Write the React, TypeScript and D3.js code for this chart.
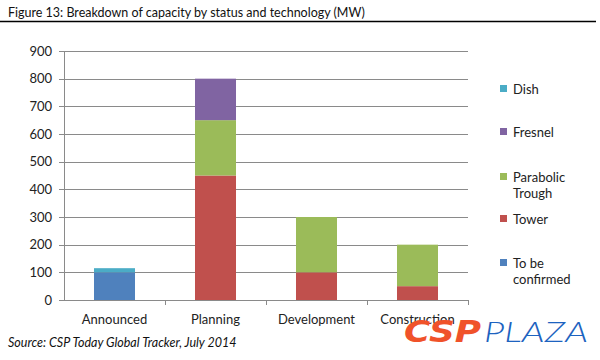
import React from "react";
import * as d3 from "d3";

const categories = ["Announced", "Planning", "Development", "Construction"];
const seriesNames = ["To be confirmed", "Tower", "Parabolic Trough", "Fresnel", "Dish"];
const toBeConfirmed = [100, 0, 0, 0];
const tower = [0, 450, 100, 50];
const parabolicTrough = [0, 200, 200, 150];
const fresnel = [0, 150, 0, 0];
const dish = [15, 0, 0, 0];
const yTicks = [0, 100, 200, 300, 400, 500, 600, 700, 800, 900];
const colors = ["#4f81bd", "#c0504d", "#9bbb59", "#8064a2", "#4bacc6"];
const legendLines: string[][] = [["Dish"], ["Fresnel"], ["Parabolic", "Trough"], ["Tower"], ["To be", "confirmed"]];
const legendY = [89, 132, 177, 219, 263];

const FONT = "Lato, 'Open Sans', sans-serif";

export default function App() {
  const W = 600, H = 360;
  const left = 64, right = 468, top = 51, bottom = 300;
  const values = [toBeConfirmed, tower, parabolicTrough, fresnel, dish];
  const rows = categories.map((c, i) => {
    const r: any = { cat: c };
    seriesNames.forEach((s, j) => (r[s] = values[j][i]));
    return r;
  });
  const stacked = d3.stack<any>().keys(seriesNames)(rows);
  const x = d3.scaleBand<string>().domain(categories).range([left, right]).paddingInner(0.594).paddingOuter(0.297);
  const y = d3.scaleLinear().domain([0, 900]).range([bottom, top]);
  const step = x.step();

  return (
    <svg width={W} height={H} style={{ position: "absolute", left: 0, top: 0, background: "#fff" }}>
      <rect x={0} y={0} width={W} height={H} fill="#fff" />
      <text x={8} y={17} fontFamily={FONT} fontSize={12.5} fill="#111">
        Figure 13: Breakdown of capacity by status and technology (MW)
      </text>
      <line x1={0} x2={596} y1={21.5} y2={21.5} stroke="#000" strokeWidth={1.5} />

      {yTicks.map((t) => (
        <g key={t}>
          {t > 0 && <line x1={left} x2={right} y1={Math.round(y(t)) + 0.5} y2={Math.round(y(t)) + 0.5} stroke="#8a8a8a" strokeWidth={1} />}
          <line x1={left - 5} x2={left} y1={Math.round(y(t)) + 0.5} y2={Math.round(y(t)) + 0.5} stroke="#8a8a8a" />
          <text x={52} y={y(t) + 4.5} textAnchor="end" fontFamily={FONT} fontSize={13} fill="#222">
            {t}
          </text>
        </g>
      ))}
      <line x1={left + 0.5} x2={left + 0.5} y1={top} y2={bottom} stroke="#8a8a8a" />

      {stacked.map((s, j) => (
        <g key={s.key} fill={colors[j]}>
          {s.map((d, i) =>
            d[1] - d[0] > 0 ? (
              <rect key={i} x={x(categories[i])!} width={x.bandwidth()} y={y(d[1])} height={y(d[0]) - y(d[1])} />
            ) : null
          )}
        </g>
      ))}

      <line x1={left} x2={right} y1={bottom + 0.5} y2={bottom + 0.5} stroke="#8a8a8a" />
      {categories.map((c, i) => (
        <line key={c} x1={left + step * (i + 1) + 0.5} x2={left + step * (i + 1) + 0.5} y1={bottom} y2={bottom + 5} stroke="#8a8a8a" />
      ))}
      {categories.map((c) => (
        <text key={c} x={x(c)! + x.bandwidth() / 2} y={324} textAnchor="middle" fontFamily={FONT} fontSize={13} fill="#222">
          {c}
        </text>
      ))}

      {legendLines.map((lines, k) => (
        <g key={k}>
          <rect x={500} y={legendY[k] - 4} width={7} height={7} fill={colors[colors.length - 1 - k]} />
          {lines.map((ln, m) => (
            <text key={m} x={513} y={legendY[k] + 4.5 + m * 16.5} fontFamily={FONT} fontSize={13} fill="#222">
              {ln}
            </text>
          ))}
        </g>
      ))}

      <text x={8} y={347} fontFamily={FONT} fontSize={12.5} fontStyle="italic" fill="#111">
        Source: CSP Today Global Tracker, July 2014
      </text>

      <text x={404} y={342} fontFamily="'DejaVu Sans', sans-serif" fontWeight={900} fontStyle="italic" fontSize={31} fill="#f0522a" textLength={77} lengthAdjust="spacingAndGlyphs">
        CSP
      </text>
      <text x={484} y={342} fontFamily="Lato, sans-serif" fontWeight={300} fontStyle="italic" fontSize={27} fill="#1d63c0" textLength={104} lengthAdjust="spacingAndGlyphs">
        PLAZA
      </text>
    </svg>
  );
}
